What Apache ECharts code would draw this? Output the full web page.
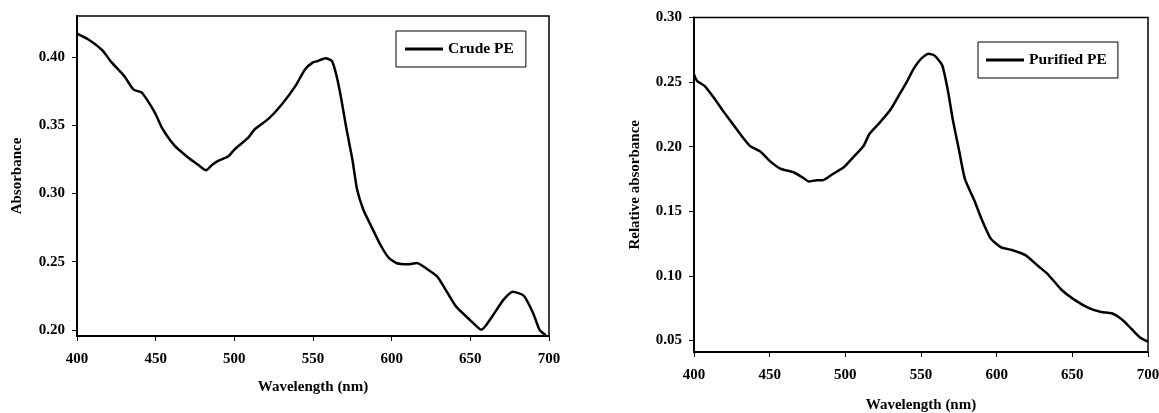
<!DOCTYPE html>
<html>
<head>
<meta charset="utf-8">
<script src="https://cdn.jsdelivr.net/npm/echarts@6/dist/echarts.min.js"></script>
<style>
  html, body { margin: 0; padding: 0; background: #fff; }
  #chart { width: 1159px; height: 413px; }
</style>
</head>
<body>
<div id="chart"></div>
<script>
const crudeNm = [400, 407, 416, 422, 430, 436, 441, 446, 450, 454, 462, 471, 477, 482, 486, 490, 496, 500, 509, 513, 522, 530, 539, 545, 550, 553, 558, 562, 565, 568, 571, 575, 578, 582, 587, 593, 598, 603, 610, 616, 622, 629, 635, 641, 650, 657, 664, 671, 677, 684, 690, 694, 698];
const crudeAbs = [0.417, 0.413, 0.405, 0.396, 0.386, 0.376, 0.374, 0.366, 0.358, 0.348, 0.335, 0.326, 0.321, 0.317, 0.321, 0.324, 0.327, 0.332, 0.341, 0.347, 0.355, 0.365, 0.379, 0.391, 0.396, 0.397, 0.399, 0.397, 0.386, 0.369, 0.349, 0.325, 0.303, 0.288, 0.276, 0.262, 0.253, 0.249, 0.248, 0.249, 0.245, 0.239, 0.228, 0.217, 0.207, 0.200, 0.210, 0.222, 0.228, 0.225, 0.212, 0.200, 0.196];

const purifiedNm = [400, 402, 407, 413, 419, 426, 433, 437, 444, 450, 457, 466, 472, 476, 481, 485, 492, 499, 505, 512, 516, 523, 530, 536, 541, 545, 550, 555, 559, 564, 568, 571, 575, 579, 585, 590, 596, 603, 610, 619, 628, 634, 643, 652, 661, 669, 676, 683, 689, 695, 700];
const purifiedAbs = [0.256, 0.251, 0.247, 0.238, 0.228, 0.217, 0.206, 0.2005, 0.196, 0.189, 0.183, 0.180, 0.176, 0.173, 0.174, 0.174, 0.179, 0.184, 0.1915, 0.2005, 0.210, 0.219, 0.229, 0.241, 0.251, 0.260, 0.268, 0.272, 0.2705, 0.263, 0.242, 0.221, 0.198, 0.175, 0.159, 0.144, 0.129, 0.122, 0.120, 0.116, 0.107, 0.101, 0.089, 0.081, 0.075, 0.072, 0.071, 0.066, 0.059, 0.052, 0.049];

const crudeTicks = [0.20, 0.25, 0.30, 0.35, 0.40];
const purifiedTicks = [0.05, 0.10, 0.15, 0.20, 0.25, 0.30];

const font = "'Liberation Serif', 'Times New Roman', serif";
const labelStyle = { color: '#000', fontFamily: font, fontWeight: 'bold', fontSize: 15 };
const nameStyle = { color: '#000', fontFamily: font, fontWeight: 'bold', fontSize: 15 };

const xAxisOf = (gridIndex, gap) => ({
  gridIndex,
  type: 'value',
  min: 400, max: 700, interval: 50,
  name: 'Wavelength (nm)',
  nameLocation: 'middle',
  nameGap: gap,
  nameTextStyle: nameStyle,
  axisLine: { lineStyle: { color: '#000', width: 2 } },
  axisTick: { inside: false, length: 5, lineStyle: { color: '#000', width: 1 } },
  axisLabel: { ...labelStyle, margin: 16 },
  splitLine: { show: false }
});

const yAxisOf = (gridIndex, name, min, max, ticks, gap) => ({
  gridIndex,
  type: 'value',
  min, max,
  name,
  nameLocation: 'middle',
  nameGap: gap,
  nameTextStyle: nameStyle,
  axisLine: { lineStyle: { color: '#000', width: 2 } },
  axisTick: { customValues: ticks, length: 5, lineStyle: { color: '#000', width: 1 } },
  axisLabel: { ...labelStyle, customValues: ticks, margin: 12, formatter: v => v.toFixed(2) },
  splitLine: { show: false }
});

const chart = echarts.init(document.getElementById('chart'), null, { renderer: 'canvas' });
chart.setOption({
  animation: false,
  backgroundColor: '#fff',
  grid: [
    { left: 77, top: 16, width: 472, height: 320, outerBoundsMode: 'none', containLabel: false,
      show: true, borderColor: '#000', borderWidth: 1.5 },
    { left: 694, top: 17.5, width: 454, height: 334.5, outerBoundsMode: 'none', containLabel: false,
      show: true, borderColor: '#000', borderWidth: 1.5 }
  ],
  legend: [
    {
      data: ['Crude PE'], left: 396, top: 31,
      icon: 'rect', itemWidth: 38, itemHeight: 3,
      padding: [10, 12, 10, 9],
      borderColor: '#000', borderWidth: 1,
      textStyle: { ...nameStyle, fontSize: 15.5 }
    },
    {
      data: ['Purified PE'], left: 978, top: 42,
      icon: 'rect', itemWidth: 38, itemHeight: 3,
      padding: [10, 11, 10, 8],
      borderColor: '#000', borderWidth: 1,
      textStyle: { ...nameStyle, fontSize: 15.5 }
    }
  ],
  xAxis: [xAxisOf(0, 44), xAxisOf(1, 46)],
  yAxis: [
    yAxisOf(0, 'Absorbance', 0.1955, 0.43, crudeTicks, 52),
    yAxisOf(1, 'Relative absorbance', 0.041, 0.30, purifiedTicks, 51)
  ],
  series: [
    {
      name: 'Crude PE', type: 'line', xAxisIndex: 0, yAxisIndex: 0,
      data: crudeNm.map((x, i) => [x, crudeAbs[i]]),
      showSymbol: false, smooth: 0.2,
      itemStyle: { color: '#000' },
      lineStyle: { color: '#000', width: 2.5 }
    },
    {
      name: 'Purified PE', type: 'line', xAxisIndex: 1, yAxisIndex: 1,
      data: purifiedNm.map((x, i) => [x, purifiedAbs[i]]),
      showSymbol: false, smooth: 0.2,
      itemStyle: { color: '#000' },
      lineStyle: { color: '#000', width: 2.5 }
    }
  ]
});
</script>
</body>
</html>
